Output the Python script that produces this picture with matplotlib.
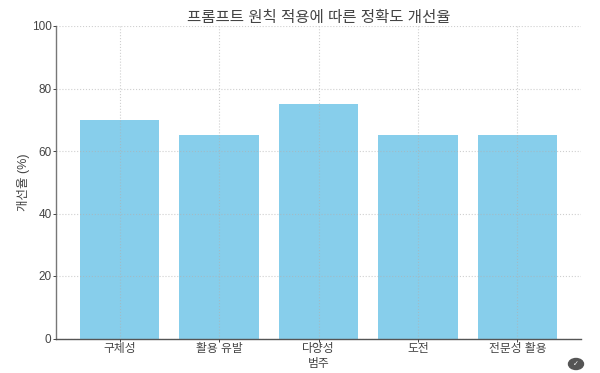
import matplotlib
matplotlib.use('Agg')
import matplotlib.pyplot as plt
from matplotlib.patches import Ellipse

plt.rcParams['font.family'] = ['Liberation Sans', 'Noto Sans CJK KR', 'DejaVu Sans']

# Values
categories = ['구체성', '활용 유발', '다양성', '도전', '전문성 활용']
improvement = [70, 65, 75, 65, 65]
y_ticks = [0, 20, 40, 60, 80, 100]

fig = plt.figure(figsize=(6.0, 3.73), dpi=100)
ax = fig.add_axes([56 / 600, 1 - 338.5 / 373, (581 - 56) / 600, (338.5 - 26) / 373])

ax.bar(categories, improvement, width=0.8, color='skyblue', zorder=2)
ax.grid(True, linestyle=':', linewidth=0.8, color='#b0b0b0', alpha=0.6, zorder=3)
ax.set_axisbelow(False)

ax.set_xlim(-0.64, 4.64)
ax.set_ylim(0, 100)
ax.set_yticks(y_ticks)

ax.set_title('프롬프트 원칙 적용에 따른 정확도 개선율', fontsize=11.2, color='#444444', pad=3)
ax.set_xlabel('범주', fontsize=8.5, color='#444444', labelpad=2.5)
ax.set_ylabel('개선율 (%)', fontsize=9, color='#444444', labelpad=1)
ax.tick_params(axis='both', labelsize=8.5, labelcolor='#444444', color='#444444', length=2.2, width=0.7, pad=1)

ax.spines['top'].set_visible(False)
ax.spines['right'].set_visible(False)
ax.spines['left'].set_color('#777777')
ax.spines['bottom'].set_color('#555555')
ax.spines['left'].set_linewidth(1.0)
ax.spines['bottom'].set_linewidth(1.0)

# small badge in the bottom right corner
fig.add_artist(Ellipse((576 / 600, 1 - 364 / 373), 15 / 600, 11 / 373,
                       transform=fig.transFigure, color='#555555'))
fig.text(576 / 600, 1 - 364 / 373, '✓', fontsize=5, color='white', ha='center', va='center',
         family='DejaVu Sans')

fig.savefig('out.png', dpi=100)
